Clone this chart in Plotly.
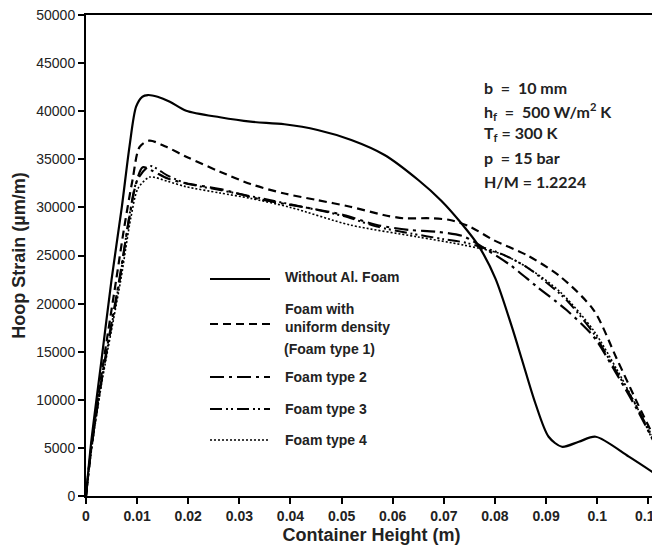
import plotly.graph_objects as go

# ---------------- data ----------------
x_nofoam = [0, 0.001, 0.003, 0.005, 0.007, 0.0085, 0.0098, 0.011, 0.0121, 0.014, 0.0164,
            0.0196, 0.0262, 0.0322, 0.0388, 0.0453, 0.0519, 0.0584, 0.065, 0.0695, 0.0735,
            0.0768, 0.0801, 0.0833, 0.0853, 0.0879, 0.0905, 0.0931, 0.0964, 0.0997, 0.1062, 0.1117]
y_nofoam = [0, 5500, 14000, 22500, 30000, 36300, 40470, 41500, 41680, 41500, 40990,
            40050, 39370, 38910, 38640, 38050, 37010, 35450, 32850, 30700, 28300,
            26000, 22600, 17600, 14140, 9640, 6160, 5120, 5640, 6160, 4090, 2180]

x_type1 = [0, 0.001, 0.003, 0.0059, 0.0075, 0.0091, 0.0105, 0.0124, 0.0157, 0.0196, 0.0262,
           0.0322, 0.0386, 0.0451, 0.0517, 0.0582, 0.0621, 0.0673, 0.0712, 0.0751, 0.0797,
           0.0862, 0.0928, 0.0993, 0.1038, 0.108, 0.1117]
y_type1 = [0, 5000, 12500, 22450, 28000, 32850, 36300, 36940, 36300, 35270, 33710,
           32430, 31470, 30770, 30070, 29210, 28870, 28870, 28690, 28000, 26610,
           25050, 22800, 19330, 14300, 9500, 5480]

x_type2 = [0, 0.001, 0.003, 0.0065, 0.0085, 0.0098, 0.0111, 0.013, 0.016, 0.0196, 0.0262,
           0.0347, 0.0438, 0.0504, 0.0569, 0.0634, 0.0686, 0.0738, 0.0784, 0.083, 0.0882,
           0.094, 0.0993, 0.104, 0.108, 0.1117]
y_type2 = [0, 4800, 12000, 22450, 29000, 32500, 34170, 33800, 33000, 32500, 31900,
           30770, 29910, 29210, 28170, 27650, 27470, 27000, 25600, 24000, 21760,
           19330, 16560, 12500, 8800, 5000]

x_type3 = [0, 0.001, 0.003, 0.0066, 0.0086, 0.01, 0.0125, 0.016, 0.0196, 0.0262, 0.0347,
           0.0438, 0.0504, 0.0569, 0.0634, 0.07, 0.0745, 0.081, 0.0862, 0.0895, 0.094,
           0.0993, 0.1032, 0.1075, 0.1117]
y_type3 = [0, 4700, 11800, 22450, 29500, 32800, 34300, 33300, 32500, 31800, 30900,
           29900, 29100, 28000, 27300, 26700, 26300, 25230, 23800, 22450, 20370,
           16910, 13440, 9500, 5200]

x_type4 = [0, 0.001, 0.003, 0.0068, 0.0088, 0.0102, 0.0125, 0.016, 0.0196, 0.0262, 0.0321,
           0.04, 0.0517, 0.0647, 0.0738, 0.081, 0.0862, 0.0928, 0.0993, 0.1038, 0.108, 0.1117]
y_type4 = [0, 4500, 11500, 22450, 29000, 32000, 33150, 32700, 32150, 31500, 30950,
           30000, 28170, 26950, 26090, 25200, 23800, 21200, 17200, 13200, 9000, 4800]

legend_labels = ["Without Al. Foam", "Foam with<br>uniform density", "Foam type 2",
                 "Foam type 3", "Foam type 4"]
legend_extra = "(Foam type 1)"
info_lines = ["b  =  10 mm", "h<sub>f</sub>  =  500 W/m<sup>2</sup> K", "T<sub>f</sub> = 300 K",
              "p  = 15 bar", "H/M = 1.2224"]

x_ticks = [0, 0.01, 0.02, 0.03, 0.04, 0.05, 0.06, 0.07, 0.08, 0.09, 0.1, 0.11]
x_ticklabels = ["0", "0.01", "0.02", "0.03", "0.04", "0.05", "0.06", "0.07", "0.08", "0.09", "0.1", "0.11"]

# ---------------- figure ----------------
series = [
    (x_nofoam, y_nofoam, "solid", 2.2),
    (x_type1, y_type1, "8px,5px", 2.2),
    (x_type2, y_type2, "14px,5px,3px,5px", 2.2),
    (x_type3, y_type3, "12px,4px,2px,3px,2px,4px", 2.0),
    (x_type4, y_type4, "2px,2px", 1.6),
]

fig = go.Figure()
for (xs, ys, dash, w), name in zip(series, legend_labels):
    fig.add_trace(go.Scatter(x=xs, y=ys, mode="lines", name=name,
                             line=dict(color="black", width=w, dash=dash,
                                       shape="spline", smoothing=0.8),
                             showlegend=False))

# page body has an 8px margin: the figure starts at (8, 8) in the window
OFF = 8.0
W, H, L = 571.0, 481.0, 86.0
def px(xp):
    return (xp - L) / W
def py(yp):
    return (496.0 - yp) / H

legend_rows = [279, 324, 377, 409, 440]
text_rows = [277, 318, 377, 409, 440]
for (xs, ys, dash, w), row, trow, lab in zip(series, legend_rows, text_rows, legend_labels):
    fig.add_shape(type="line", xref="paper", yref="paper",
                  x0=px(210), x1=px(270), y0=py(row), y1=py(row),
                  line=dict(color="black", width=w, dash=dash))
    fig.add_annotation(xref="paper", yref="paper", x=px(283), y=py(trow),
                       xanchor="left", yanchor="middle", align="left", showarrow=False,
                       text="<b>" + lab + "</b>",
                       font=dict(family="Liberation Sans, Arial", size=14, color="#222"))
fig.add_annotation(xref="paper", yref="paper", x=px(282), y=py(349),
                   xanchor="left", yanchor="middle", align="left", showarrow=False,
                   text="<b>" + legend_extra + "</b>",
                   font=dict(family="Liberation Sans, Arial", size=14, color="#222"))

info_rows = [88, 111, 134, 157, 182]
for line, row in zip(info_lines, info_rows):
    fig.add_annotation(xref="paper", yref="paper", x=px(482), y=py(row),
                       xanchor="left", yanchor="middle", showarrow=False,
                       text="<b>" + line + "</b>",
                       font=dict(family="Lato, Open Sans, sans-serif", size=16, color="#222"))

axis_font = dict(family="Liberation Sans, Arial", size=14, color="#222")
fig.update_xaxes(range=[0, 0.1117], tickvals=x_ticks, ticktext=["<b>%s</b>" % t for t in x_ticklabels],
                 showline=True, linecolor="black", linewidth=2, mirror=True,
                 ticks="outside", ticklen=6, tickwidth=2, tickcolor="black",
                 showgrid=False, zeroline=False, tickfont=axis_font, ticklabeloverflow="allow",
                 title=dict(text="<b>Container Height (m)</b>", standoff=6,
                            font=dict(family="Liberation Sans, Arial", size=18, color="#222")))
fig.update_yaxes(range=[0, 50000], dtick=5000, tickformat="d",
                 showline=True, linecolor="black", linewidth=2, mirror=True,
                 ticks="outside", ticklen=6, tickwidth=2, tickcolor="black",
                 showgrid=False, zeroline=False, tickfont=axis_font, ticklabeloverflow="allow",
                 title=dict(text="<b>Hoop Strain (µm/m)</b>", standoff=6,
                            font=dict(family="Liberation Sans, Arial", size=18, color="#222")))

fig.update_layout(width=660 - OFF, height=547 - OFF,
                  margin=dict(l=86 - OFF, r=3, t=15 - OFF, b=51, autoexpand=False),
                  paper_bgcolor="white", plot_bgcolor="white", showlegend=False)

fig.write_html("out.html")
